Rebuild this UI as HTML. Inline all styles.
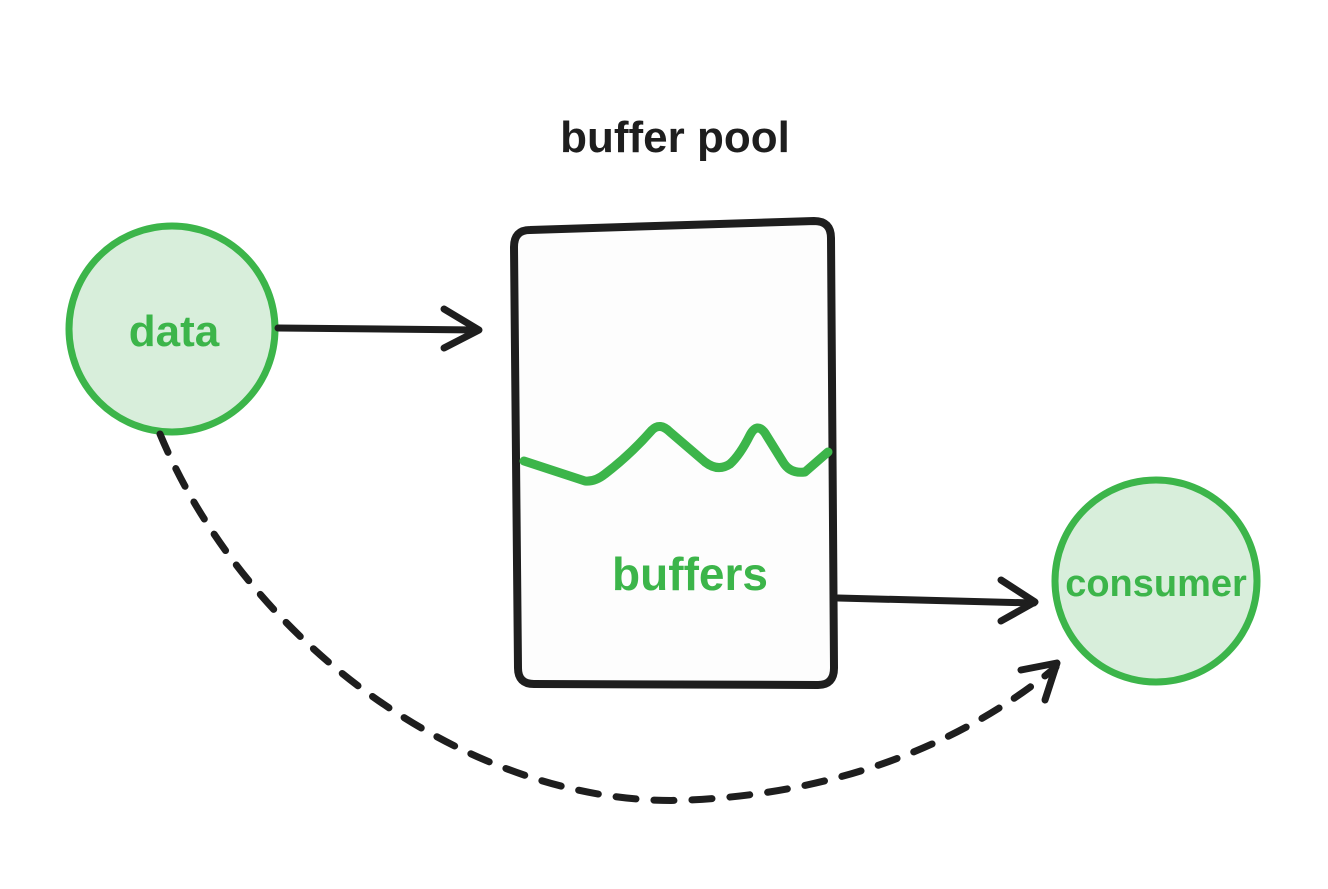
<!DOCTYPE html>
<html><head><meta charset="utf-8"><style>
html,body{margin:0;padding:0;background:#fff;}
svg{display:block;}
text{font-family:"Liberation Sans",sans-serif;font-weight:bold;}
</style></head><body>
<svg width="1328" height="889" viewBox="0 0 1328 889" xmlns="http://www.w3.org/2000/svg">
<rect width="1328" height="889" fill="#fff"/>
<text x="675" y="152" font-size="44" fill="#1e1e1e" text-anchor="middle">buffer pool</text>
<path d="M530 230 Q514 230 514 247 L518 668 Q518 684 534 684 L818 685 Q834 685 834 668 L831 238 Q831 221 814 221 Z" fill="#fdfdfd" stroke="#1e1e1e" stroke-width="8" stroke-linejoin="round"/>
<path d="M524 461 L585 481 Q595 482 605 474 Q630 455 652 430 Q660 422 670 432 L705 462 Q718 472 730 464 Q740 455 750 435 Q757 422 765 433 L783 462 Q790 474 805 472 L828 452" fill="none" stroke="#3cb54a" stroke-width="9" stroke-linecap="round" stroke-linejoin="round"/>
<text x="690" y="590" font-size="46" fill="#3cb54a" text-anchor="middle">buffers</text>
<circle cx="172" cy="329" r="103" fill="#d8eedb" stroke="#3cb54a" stroke-width="7"/>
<text x="174" y="346" font-size="44" fill="#3cb54a" text-anchor="middle">data</text>
<circle cx="1156" cy="581" r="101" fill="#d8eedb" stroke="#3cb54a" stroke-width="7"/>
<text x="1156" y="596" font-size="38" fill="#3cb54a" text-anchor="middle">consumer</text>
<g fill="none" stroke="#1e1e1e" stroke-width="7" stroke-linecap="round" stroke-linejoin="round">
<path d="M278 328 L478 330"/>
<path d="M444 309 L479 330 L444 348"/>
<path d="M838 598 L1034 603"/>
<path d="M1001 580 L1035 602 L1001 621"/>
<path d="M160 434 C 250 650, 480 810, 690 800 C 860 792, 980 730, 1056 667" stroke-dasharray="20 18"/>
<path d="M1021 670 L1057 663 L1045 700"/>
</g>
</svg>
</body></html>
